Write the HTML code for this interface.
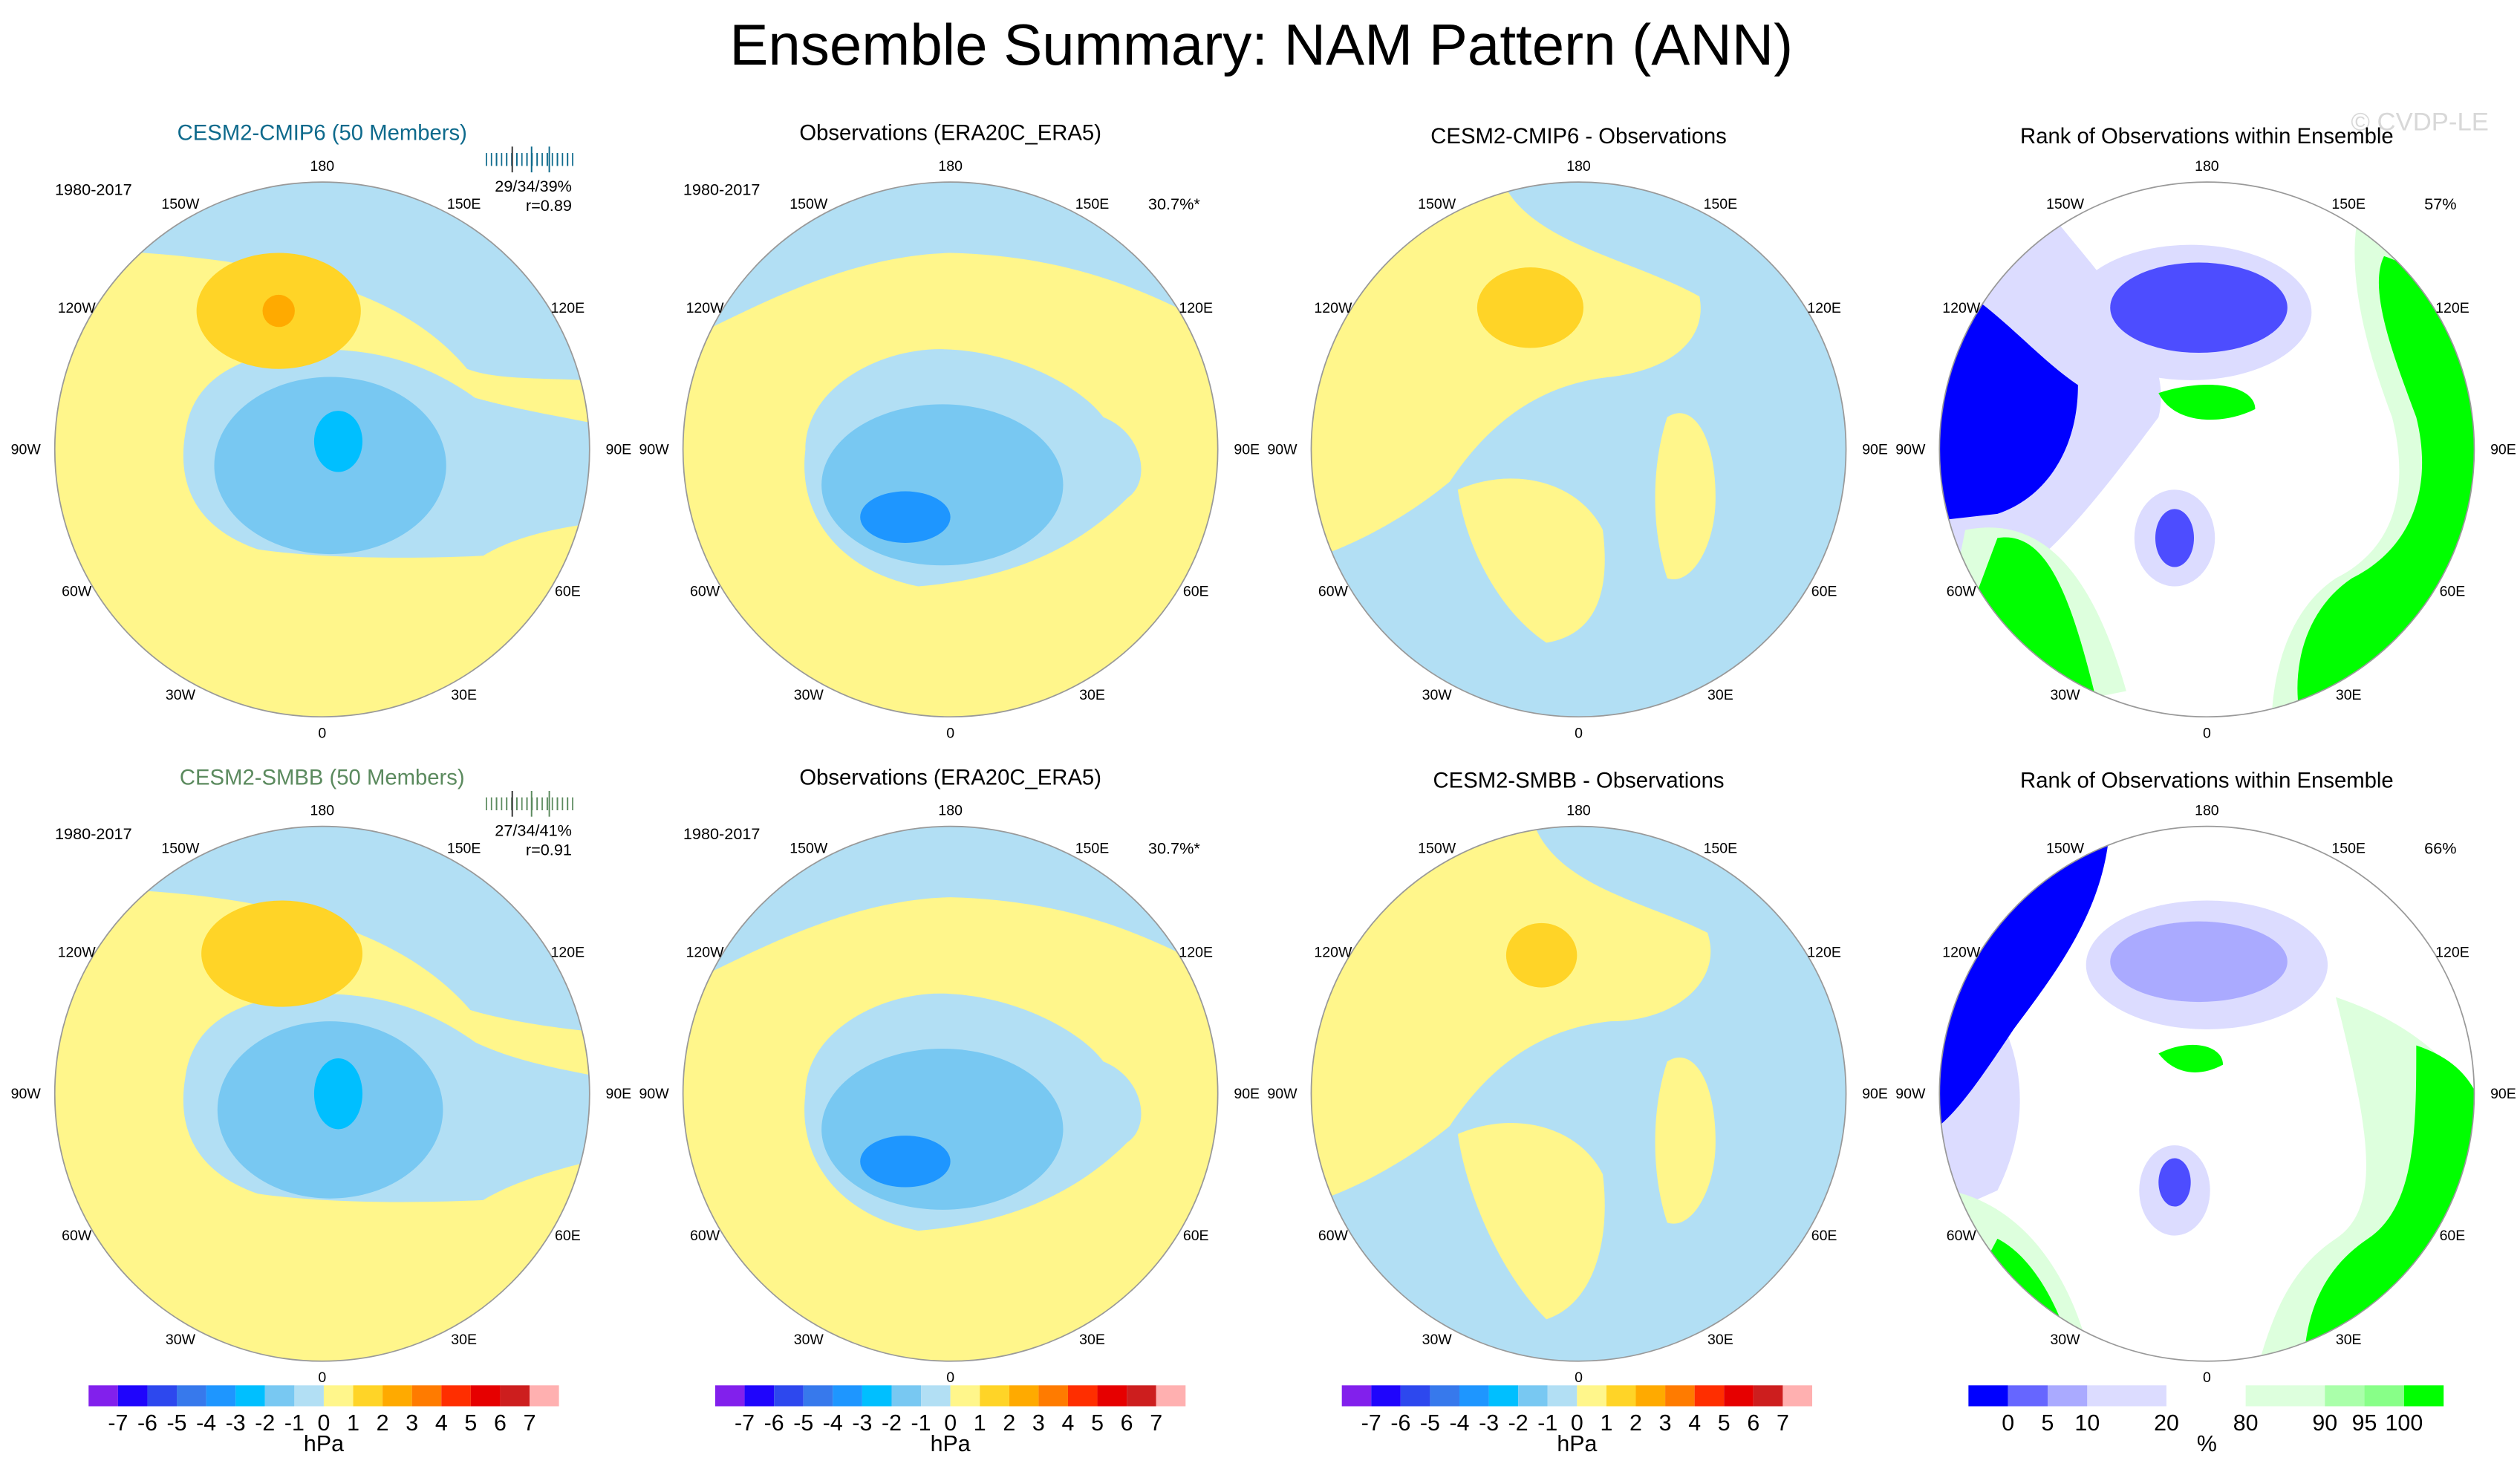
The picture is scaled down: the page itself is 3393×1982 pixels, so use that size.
<!DOCTYPE html>
<html><head><meta charset="utf-8"><style>
html,body{margin:0;padding:0;background:#fff}
svg{display:block;font-family:"Liberation Sans",sans-serif}
</style></head><body>
<svg id="root" width="3393" height="1982" viewBox="0 0 1564.4 913.8" preserveAspectRatio="none" xmlns="http://www.w3.org/2000/svg">
<defs>
<clipPath id="circ"><circle cx="0" cy="0" r="166"/></clipPath>
</defs>
<text x="783" y="40" font-size="36" text-anchor="middle">Ensemble Summary: NAM Pattern (ANN)</text>
<text x="1545" y="81" font-size="16" fill="#d8d8d8" text-anchor="end">© CVDP-LE</text>
<g id="panels"></g>
<g id="bars"></g>
</svg>
<script>
const NS="http://www.w3.org/2000/svg";
const hpaColors=["#8220ec","#1f05fc","#2d48ee","#3779ec","#1e96ff","#00bfff","#78c8f2","#b2dff4","#fff68b","#ffd427","#ffaa00","#ff7b00","#ff2e00","#e60000","#cd1e1e","#ffb0b0"];
const hpaLabels=["-7","-6","-5","-4","-3","-2","-1","0","1","2","3","4","5","6","7"];
const rankColors=["#0000ff","#6666ff","#aaaaff","#dcdcff","#ffffff","#ddffdd","#aaffaa","#88ff88","#00ff00"];
const rankSpan=[1,1,1,2,2,2,1,1,1];
const rankLabels=["0","5","10","20","80","90","95","100"];
const colX=[200,590,980,1370];
const rowY=[279,679];
const Y="#fff68b",B="#b2dff4",MB="#78c8f2",C="#00bfff",O="#ffd427",DO="#ffaa00",DB="#1e96ff";
function el(tag,attrs,parent){const e=document.createElementNS(NS,tag);for(const k in attrs)e.setAttribute(k,attrs[k]);parent.appendChild(e);return e;}
const panels=[
 {row:0,col:0,title:"CESM2-CMIP6 (50 Members)",tc:"#0e6a8c",stats:["29/34/39%","r=0.89"],base:Y,shapes:[
  ["path",{d:"M-175,-125 C-60,-122 40,-110 90,-50 C110,-42 150,-45 175,-42 L175,-175 L-175,-175Z",fill:B}],
  ["path",{d:"M-85,-10 C-80,-50 -40,-62 0,-62 C40,-62 70,-50 95,-32 C120,-25 150,-20 175,-15 L175,45 C130,50 110,60 100,66 C60,68 0,68 -40,62 C-80,48 -90,20 -85,-10Z",fill:B}],
  ["ellipse",{cx:5,cy:10,rx:72,ry:55,fill:MB}],
  ["ellipse",{cx:10,cy:-5,rx:15,ry:19,fill:C}],
  ["ellipse",{cx:-27,cy:-86,rx:51,ry:36,fill:O}],
  ["circle",{cx:-27,cy:-86,r:10,fill:DO}]]},
 {row:0,col:1,title:"Observations (ERA20C_ERA5)",tc:"#000",pct:"30.7%*",base:Y,shapes:[
  ["path",{d:"M-175,-65 C-150,-70 -80,-120 0,-122 C80,-120 130,-95 175,-70 L175,-175 L-175,-175Z",fill:B}],
  ["path",{d:"M-90,0 C-90,-40 -40,-65 0,-62 C40,-60 80,-40 95,-20 C120,-10 125,20 110,30 C80,60 40,80 -20,85 C-70,75 -95,40 -90,0Z",fill:B}],
  ["ellipse",{cx:-5,cy:22,rx:75,ry:50,fill:MB}],
  ["ellipse",{cx:-28,cy:42,rx:28,ry:16,fill:DB}]]},
 {row:0,col:2,title:"CESM2-CMIP6 - Observations",tc:"#000",base:B,shapes:[
  ["path",{d:"M-175,-175 L-50,-175 C-40,-130 30,-120 75,-95 C80,-70 60,-50 20,-45 C-30,-40 -60,-10 -80,20 C-110,45 -150,65 -175,70Z",fill:Y}],
  ["path",{d:"M55,-20 C70,-30 85,-10 85,30 C85,60 70,85 55,80 C45,50 45,10 55,-20Z",fill:Y}],
  ["path",{d:"M-75,25 C-40,10 0,20 15,50 C20,90 10,115 -20,120 C-50,100 -70,60 -75,25Z",fill:Y}],
  ["ellipse",{cx:-30,cy:-88,rx:33,ry:25,fill:O}]]},
 {row:0,col:3,title:"Rank of Observations within Ensemble",tc:"#000",pct:"57%",base:"#ffffff",shapes:[
  ["path",{d:"M-100,-150 C-60,-100 -20,-60 -30,-20 C-60,20 -90,60 -120,80 L-175,60 L-175,-175Z",fill:"#dcdcff"}],
  ["path",{d:"M-175,-110 C-140,-100 -110,-60 -80,-40 C-80,0 -100,30 -130,40 L-175,45Z",fill:"#0000ff"}],
  ["ellipse",{cx:-10,cy:-85,rx:75,ry:42,fill:"#dcdcff"}],
  ["ellipse",{cx:-5,cy:-88,rx:55,ry:28,fill:"#4d4dff"}],
  ["path",{d:"M95,-150 C140,-120 175,-80 175,-40 L175,175 L40,175 C40,140 50,100 80,80 C120,60 125,20 115,-20 C100,-60 85,-110 95,-150Z",fill:"#ddffdd"}],
  ["path",{d:"M110,-120 C140,-110 175,-80 175,-40 L175,175 L60,175 C50,140 60,100 90,80 C130,60 140,20 130,-20 C115,-60 100,-100 110,-120Z",fill:"#00ff00"}],
  ["path",{d:"M-150,50 C-100,40 -70,80 -50,150 L-175,175Z",fill:"#ddffdd"}],
  ["path",{d:"M-130,55 C-100,50 -85,90 -70,150 L-175,175Z",fill:"#00ff00"}],
  ["path",{d:"M-30,-35 C0,-45 30,-40 30,-25 C10,-15 -20,-15 -30,-35Z",fill:"#00ff00"}],
  ["ellipse",{cx:-20,cy:55,rx:25,ry:30,fill:"#dcdcff"}],
  ["ellipse",{cx:-20,cy:55,rx:12,ry:18,fill:"#4d4dff"}]]},
 {row:1,col:0,title:"CESM2-SMBB (50 Members)",tc:"#5b8a5e",stats:["27/34/41%","r=0.91"],base:Y,shapes:[
  ["path",{d:"M-175,-128 C-60,-128 40,-112 92,-52 C115,-45 150,-40 175,-38 L175,-175 L-175,-175Z",fill:B}],
  ["path",{d:"M-85,-10 C-80,-50 -40,-62 0,-62 C40,-62 70,-50 95,-32 C120,-20 150,-15 175,-10 L175,40 C130,50 110,60 100,66 C60,68 0,68 -40,62 C-80,48 -90,20 -85,-10Z",fill:B}],
  ["ellipse",{cx:5,cy:10,rx:70,ry:55,fill:MB}],
  ["ellipse",{cx:10,cy:0,rx:15,ry:22,fill:C}],
  ["ellipse",{cx:-25,cy:-87,rx:50,ry:33,fill:O}]]},
 {row:1,col:1,title:"Observations (ERA20C_ERA5)",tc:"#000",pct:"30.7%*",base:Y,shapes:[
  ["path",{d:"M-175,-65 C-150,-70 -80,-120 0,-122 C80,-120 130,-95 175,-70 L175,-175 L-175,-175Z",fill:B}],
  ["path",{d:"M-90,0 C-90,-40 -40,-65 0,-62 C40,-60 80,-40 95,-20 C120,-10 125,20 110,30 C80,60 40,80 -20,85 C-70,75 -95,40 -90,0Z",fill:B}],
  ["ellipse",{cx:-5,cy:22,rx:75,ry:50,fill:MB}],
  ["ellipse",{cx:-28,cy:42,rx:28,ry:16,fill:DB}]]},
 {row:1,col:2,title:"CESM2-SMBB - Observations",tc:"#000",base:B,shapes:[
  ["path",{d:"M-175,-175 L-30,-175 C-20,-130 40,-120 80,-100 C90,-70 60,-45 20,-45 C-30,-40 -60,-10 -80,20 C-110,45 -150,65 -175,70Z",fill:Y}],
  ["path",{d:"M55,-20 C70,-30 85,-10 85,30 C85,60 70,85 55,80 C45,50 45,10 55,-20Z",fill:Y}],
  ["path",{d:"M-75,25 C-40,10 0,20 15,50 C20,90 10,130 -20,140 C-50,110 -70,60 -75,25Z",fill:Y}],
  ["ellipse",{cx:-23,cy:-86,rx:22,ry:20,fill:O}]]},
 {row:1,col:3,title:"Rank of Observations within Ensemble",tc:"#000",pct:"66%",base:"#ffffff",shapes:[
  ["path",{d:"M-175,-100 C-120,-60 -100,0 -130,60 L-175,80Z",fill:"#dcdcff"}],
  ["path",{d:"M-175,-175 L-60,-175 C-60,-120 -90,-80 -120,-40 C-140,-10 -160,20 -175,25Z",fill:"#0000ff"}],
  ["ellipse",{cx:0,cy:-80,rx:75,ry:40,fill:"#dcdcff"}],
  ["ellipse",{cx:-5,cy:-82,rx:55,ry:25,fill:"#aaaaff"}],
  ["path",{d:"M80,-60 C140,-40 175,0 175,40 L175,175 L30,175 C40,140 50,110 80,90 C110,70 100,20 80,-60Z",fill:"#ddffdd"}],
  ["path",{d:"M130,-30 C160,-20 175,0 175,40 L175,175 L60,175 C60,140 70,110 100,90 C130,70 130,20 130,-30Z",fill:"#00ff00"}],
  ["path",{d:"M-160,60 C-110,70 -80,120 -70,175 L-175,175Z",fill:"#ddffdd"}],
  ["path",{d:"M-130,90 C-110,100 -90,130 -80,175 L-175,175Z",fill:"#00ff00"}],
  ["path",{d:"M-30,-25 C-10,-35 10,-30 10,-18 C-5,-10 -20,-12 -30,-25Z",fill:"#00ff00"}],
  ["ellipse",{cx:-20,cy:60,rx:22,ry:28,fill:"#dcdcff"}],
  ["ellipse",{cx:-20,cy:55,rx:10,ry:15,fill:"#4d4dff"}]]}
];
const lonLabels=["180","0","150W","150E","120W","120E","90W","90E","60W","60E","30W","30E"];
const lonAng=[180,0,-150,150,-120,120,-90,90,-60,60,-30,30];
const root=document.getElementById('panels');
panels.forEach((p,i)=>{
 const cx=colX[p.col],cy=rowY[p.row];
 const g=el('g',{transform:`translate(${cx},${cy})`},root);
 
 
 const m=el('g',{'clip-path':'url(#circ)'},g);
 
 
 el('rect',{x:-170,y:-170,width:340,height:340,fill:p.base},m);
 p.shapes.forEach(s=>{el(s[0],s[1],m);});
 const ring=el('circle',{cx:0,cy:0,r:166,fill:'none',stroke:'#999','stroke-width':0.8},g);
 
 
 lonLabels.forEach((t,k)=>{
  const a=lonAng[k]*Math.PI/180;
  const rr=(Math.abs(lonAng[k])===90)?184:176;
  const x=rr*Math.sin(a), y=rr*Math.cos(a);
  const tx=el('text',{x:x,y:y+3,'font-size':9,'text-anchor':'middle'},g);
  
  
  tx.textContent=t;
 });
 const tt=el('text',{x:0,y:(p.col>=2?-190:-192),'font-size':13.5,'text-anchor':'middle',fill:p.tc},g);
 
 
 tt.textContent=p.title;
 if(p.col<2){const d=el('text',{x:-142,y:-158,'font-size':10,'text-anchor':'middle'},g);
  d.textContent='1980-2017';}
 if(p.pct){const d=el('text',{x:155,y:-149,'font-size':10,'text-anchor':'end'},g);
  d.textContent=p.pct;}
 if(p.stats){
  p.stats.forEach((s,k)=>{const d=el('text',{x:155,y:-160+k*12,'font-size':10,'text-anchor':'end'},g);
   d.textContent=s;});
  const tg=el('g',{},g);
  
  for(let k=0;k<26;k++){const x=102+k*2.1+(k%3);el('line',{x1:x,x2:x,y1:-184,y2:-176,stroke:p.tc,'stroke-width':0.8},tg);}
  el('line',{x1:118,x2:118,y1:-188,y2:-172,stroke:'#333','stroke-width':0.9},tg);
  el('line',{x1:130,x2:130,y1:-188,y2:-172,stroke:p.tc,'stroke-width':0.9},tg);
  el('line',{x1:141,x2:141,y1:-188,y2:-172,stroke:p.tc,'stroke-width':0.9},tg);
 }
});
const bars=document.getElementById('bars');
[0,1,2].forEach(c=>{
 const x0=55+c*389,w=292,n=hpaColors.length,bw=w/n;
 const g=el('g',{},bars);
 
 hpaColors.forEach((col,k)=>{const r=el('rect',{x:x0+k*bw,y:860,width:bw,height:13,fill:col},g);
  });
 hpaLabels.forEach((t,k)=>{const tx=el('text',{x:x0+(k+1)*bw,y:888,'font-size':14,'text-anchor':'middle'},g);
  tx.textContent=t;});
 const u=el('text',{x:x0+8*bw,y:901,'font-size':14,'text-anchor':'middle'},g);
 u.textContent='hPa';
});
(function(){
 const x0=1222,w=295,tot=rankSpan.reduce((a,b)=>a+b,0),unit=w/tot;
 const g=el('g',{},bars);
 
 let x=x0;const bounds=[];
 rankColors.forEach((col,k)=>{const bw=rankSpan[k]*unit;const r=el('rect',{x:x,y:860,width:bw,height:13,fill:col},g);
  x+=bw;bounds.push(x);});
 rankLabels.forEach((t,k)=>{const tx=el('text',{x:bounds[k],y:888,'font-size':14,'text-anchor':'middle'},g);
  tx.textContent=t;});
 const u=el('text',{x:x0+148,y:901,'font-size':14,'text-anchor':'middle'},g);
 u.textContent='%';
})();
</script>
</body></html>
